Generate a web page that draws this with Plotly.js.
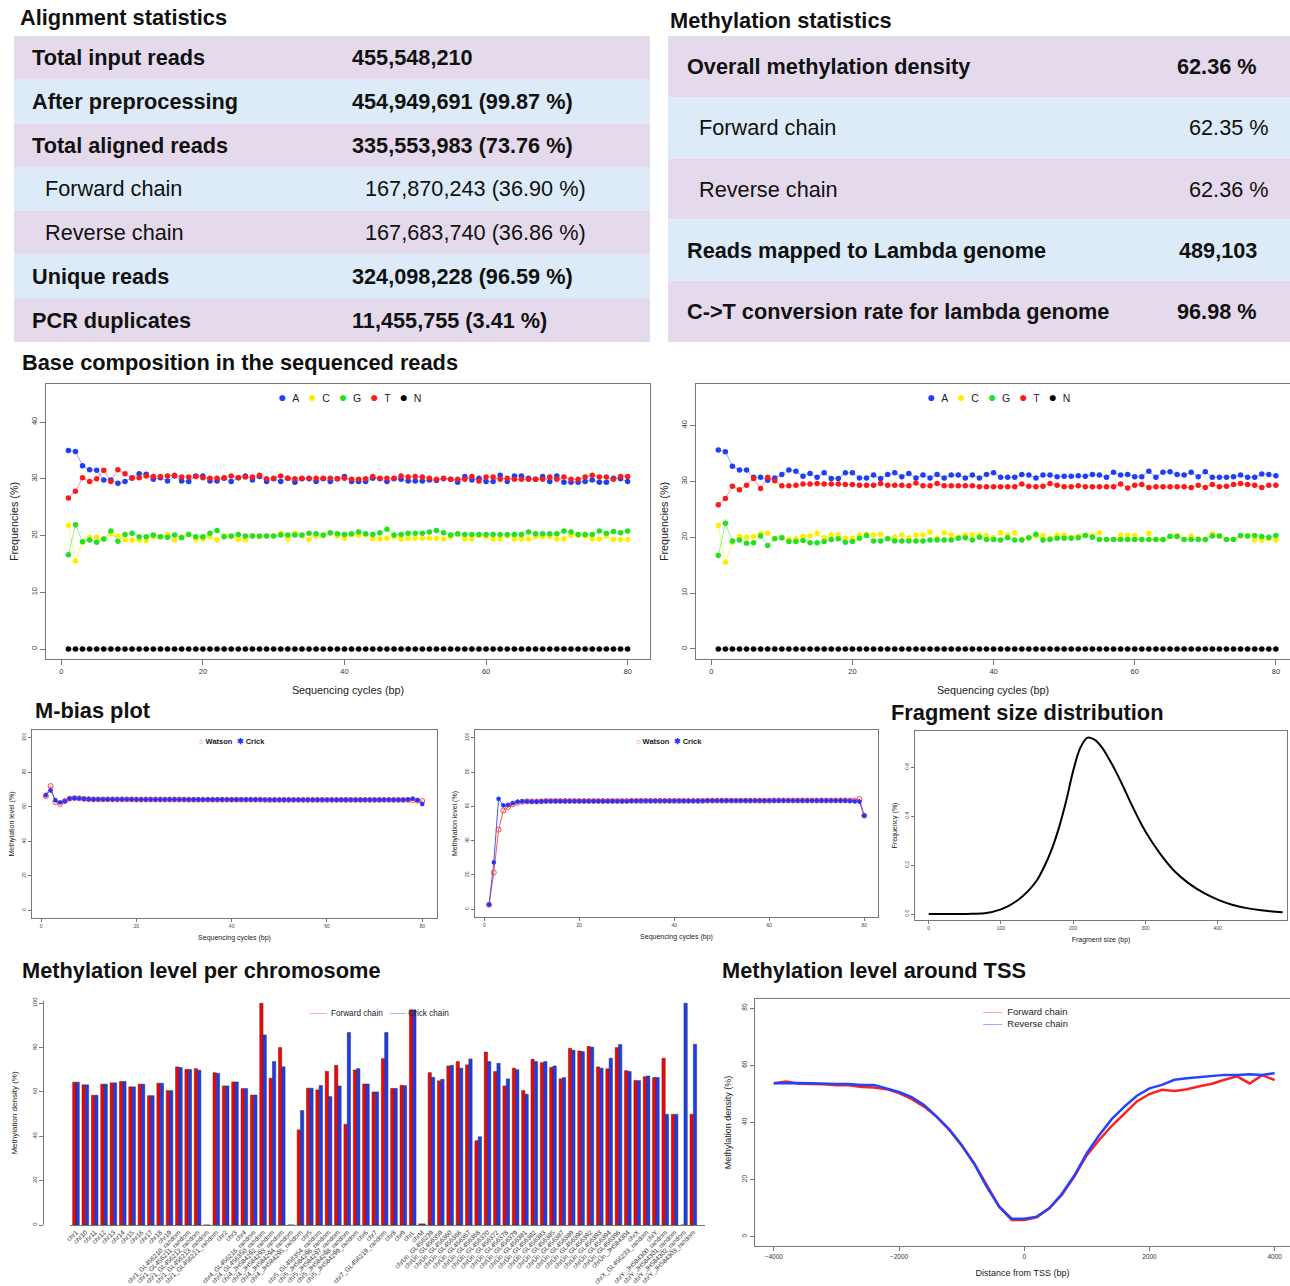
<!DOCTYPE html>
<html><head><meta charset="utf-8">
<script src="https://cdn.plot.ly/plotly-3.0.1.min.js"></script>
<style>body{margin:0;background:#fff}#chart{width:1290px;height:1286px}</style>
</head><body><div id="chart"></div>
<script>
// ================= DATA =================
// Tables
const alignLabels = ["Total input reads","After preprocessing","Total aligned reads","Forward chain","Reverse chain","Unique reads","PCR duplicates"];
const alignValues = ["455,548,210","454,949,691 (99.87 %)","335,553,983 (73.76 %)","167,870,243 (36.90 %)","167,683,740 (36.86 %)","324,098,228 (96.59 %)","11,455,755 (3.41 %)"];
const alignBold = [true,true,true,false,false,true,true];
const methLabels = ["Overall methylation density","Forward chain","Reverse chain","Reads mapped to Lambda genome","C->T conversion rate for lambda genome"];
const methValues = ["62.36 %","62.35 %","62.36 %","489,103","96.98 %"];
const methBold = [true,false,false,true,true];

// Base composition
const cycles = [1,2,3,4,5,6,7,8,9,10,11,12,13,14,15,16,17,18,19,20,21,22,23,24,25,26,27,28,29,30,31,32,33,34,35,36,37,38,39,40,41,42,43,44,45,46,47,48,49,50,51,52,53,54,55,56,57,58,59,60,61,62,63,64,65,66,67,68,69,70,71,72,73,74,75,76,77,78,79,80];
const baseNames = ["A","C","G","T","N"];
const A_L = [35.0,34.8,32.3,31.6,31.5,29.8,29.8,29.2,29.5,30.2,30.9,30.8,29.9,30.2,29.6,30.5,29.6,29.5,30.5,30.5,29.6,29.6,30.1,29.5,30.2,30.5,29.8,30.4,29.5,30.0,29.5,30.1,29.4,30.0,30.0,29.5,30.0,29.5,30.0,30.4,29.5,29.5,29.5,30.1,30.0,29.5,30.0,29.9,29.6,29.6,29.6,29.8,29.7,30.0,29.9,29.4,30.4,29.8,30.1,29.5,29.5,30.6,29.5,30.5,30.5,30.1,29.9,30.4,29.5,30.5,29.4,29.4,29.4,29.5,29.8,29.4,29.4,30.1,30.0,29.5];
const C_L = [21.8,15.5,18.9,19.7,19.7,19.4,20.3,19.9,19.2,19.2,19.2,19.1,19.8,19.8,20.2,19.2,19.8,20.2,19.3,19.4,19.8,19.2,19.9,19.8,19.3,19.2,19.9,19.8,19.9,19.9,20.4,19.4,20.4,19.9,19.3,19.9,19.9,20.4,19.9,19.5,20.1,20.0,20.2,19.4,19.4,19.5,19.8,19.4,19.5,19.5,19.5,19.5,19.5,19.4,19.8,20.2,19.4,19.4,20.0,19.8,19.4,19.4,19.9,19.4,19.4,19.4,19.8,19.8,19.8,19.4,19.4,20.0,20.0,19.9,19.4,19.4,19.9,19.3,19.3,19.3];
const G_L = [16.6,21.9,18.9,19.2,18.8,19.4,20.8,19.0,20.2,20.4,19.8,19.8,20.1,19.8,19.7,20.1,19.6,20.2,19.8,19.8,20.4,20.9,19.8,19.9,20.2,19.9,19.9,19.9,19.9,19.9,20.1,20.1,20.1,20.1,20.4,20.3,20.1,20.5,20.3,20.2,20.3,20.6,20.3,20.2,20.5,21.1,20.1,20.2,20.4,20.4,20.4,20.6,20.9,20.5,20.1,20.3,20.2,20.2,20.2,20.2,20.2,20.2,20.2,20.2,20.2,20.6,20.3,20.3,20.3,20.3,20.8,20.6,20.2,20.2,20.2,20.8,20.4,20.7,20.5,20.8];
const T_L = [26.6,27.8,30.2,29.5,30.0,31.5,29.5,31.6,30.9,30.1,30.2,30.5,30.4,30.4,30.5,30.6,30.3,30.3,30.4,30.2,30.1,30.1,30.2,30.5,30.2,30.3,30.3,30.6,30.0,30.1,30.5,30.1,30.0,30.1,30.1,30.1,30.1,30.1,30.0,30.1,29.9,29.9,30.0,30.4,30.1,30.1,30.1,30.5,30.3,30.4,30.3,30.1,29.9,30.1,29.9,29.9,29.9,30.4,29.6,30.3,30.3,29.9,30.1,29.9,29.9,29.9,29.9,29.9,30.3,29.9,30.3,29.9,29.9,30.3,30.6,30.3,30.3,29.9,30.4,30.4];
const N_L = [0,0,0,0,0,0,0,0,0,0,0,0,0,0,0,0,0,0,0,0,0,0,0,0,0,0,0,0,0,0,0,0,0,0,0,0,0,0,0,0,0,0,0,0,0,0,0,0,0,0,0,0,0,0,0,0,0,0,0,0,0,0,0,0,0,0,0,0,0,0,0,0,0,0,0,0,0,0,0,0];
const A_R = [35.6,35.3,32.7,32.0,32.0,30.7,30.7,30.2,30.6,31.2,32.0,31.8,30.9,31.4,30.7,31.5,30.5,30.5,31.5,31.5,30.6,30.6,31.1,30.5,31.2,31.5,30.8,31.4,30.6,31.1,30.6,31.2,30.6,31.1,31.1,30.6,31.1,30.6,31.2,31.5,30.7,30.7,30.7,31.2,31.1,30.6,31.1,31.1,30.8,30.9,30.9,31.0,30.9,31.2,31.1,30.7,31.6,31.1,31.2,30.8,30.8,31.8,30.7,31.6,31.7,31.2,31.1,31.6,30.8,31.7,30.7,30.7,30.7,30.8,31.1,30.7,30.7,31.3,31.2,31.0];
const C_R = [22.1,15.5,19.1,20.1,20.0,20.1,20.6,20.7,19.8,19.9,19.6,19.7,20.1,20.2,20.7,19.9,20.4,20.4,19.8,19.8,20.4,20.5,20.4,20.5,19.8,20.0,20.4,19.9,20.4,20.4,20.9,19.8,20.8,20.4,20.0,20.4,20.4,20.4,20.3,19.9,20.8,20.4,20.8,19.6,19.9,20.2,20.3,19.8,20.4,20.4,20.0,20.2,20.3,20.3,20.8,19.6,19.6,20.4,20.3,20.3,19.6,20.7,19.6,19.6,20.2,20.3,19.6,20.2,19.7,19.6,20.6,20.2,19.6,19.6,20.2,20.3,19.5,19.5,19.7,19.5];
const G_R = [16.7,22.5,19.3,19.5,18.9,19.0,20.2,18.5,19.7,19.9,19.2,19.2,19.4,19.0,19.0,19.2,19.6,19.7,19.1,19.2,19.8,20.3,19.3,19.3,19.7,19.3,19.3,19.3,19.3,19.3,19.5,19.5,19.5,19.5,19.8,19.9,19.5,20.0,19.6,19.6,19.5,19.9,19.5,19.5,19.9,20.5,19.5,19.6,19.8,19.8,19.8,19.9,20.3,20.0,19.6,19.6,19.6,19.6,19.6,19.6,19.6,19.6,19.6,19.6,20.1,20.1,19.6,19.6,19.6,19.6,20.2,20.2,19.6,19.6,20.3,20.2,20.3,20.1,20.0,20.3];
const T_R = [25.8,26.9,29.1,28.5,29.3,30.5,28.7,30.7,30.1,29.2,29.2,29.3,29.5,29.5,29.6,29.5,29.5,29.5,29.4,29.4,29.3,29.3,29.3,29.6,29.3,29.3,29.3,29.2,29.7,29.2,29.2,29.6,29.2,29.2,29.2,29.2,29.2,29.0,29.0,29.0,29.0,29.0,29.0,29.5,29.1,29.0,29.1,29.6,29.3,29.0,29.0,29.2,29.0,29.0,29.0,29.0,29.0,29.5,28.8,29.3,29.4,28.9,29.0,29.0,29.0,29.0,29.0,28.9,29.3,28.9,29.4,29.0,29.1,29.4,29.6,29.4,29.3,28.9,29.3,29.3];
const N_R = [0,0,0,0,0,0,0,0,0,0,0,0,0,0,0,0,0,0,0,0,0,0,0,0,0,0,0,0,0,0,0,0,0,0,0,0,0,0,0,0,0,0,0,0,0,0,0,0,0,0,0,0,0,0,0,0,0,0,0,0,0,0,0,0,0,0,0,0,0,0,0,0,0,0,0,0,0,0,0,0];

// M-bias
const watsonL = [66.2,72.0,62.7,61.7,63.3,64.7,65.0,64.9,64.6,64.4,64.3,64.3,64.3,64.3,64.3,64.3,64.3,64.3,64.3,64.2,64.2,64.2,64.2,64.2,64.2,64.2,64.2,64.2,64.2,64.2,64.1,64.1,64.1,64.1,64.1,64.1,64.1,64.1,64.1,64.1,64.1,64.1,64.1,64.1,64.1,64.1,64.0,64.0,64.0,64.0,64.0,64.0,64.0,64.0,64.0,64.0,64.0,64.0,64.0,64.0,64.0,64.0,64.0,64.0,64.0,64.0,64.0,64.0,64.0,64.0,64.0,64.0,64.0,64.0,64.0,64.0,64.0,63.9,63.5,63.3];
const crickL = [66.8,69.5,63.9,62.5,63.3,64.7,65.0,64.9,64.6,64.4,64.3,64.3,64.3,64.3,64.3,64.3,64.3,64.3,64.3,64.2,64.2,64.2,64.2,64.2,64.2,64.2,64.2,64.2,64.2,64.2,64.1,64.1,64.1,64.1,64.1,64.1,64.1,64.1,64.1,64.1,64.1,64.1,64.1,64.1,64.1,64.1,64.0,64.0,64.0,64.0,64.0,64.0,64.0,64.0,64.0,64.0,64.0,64.0,64.0,64.0,64.0,64.0,64.0,64.0,64.0,64.0,64.0,64.0,64.0,64.0,64.0,64.0,64.0,64.0,64.0,64.0,64.1,64.7,63.9,61.7];
const watsonR = [2.7,21.4,46.4,57.5,59.6,61.2,62.1,62.7,62.9,62.9,62.8,62.9,63.1,63.1,63.1,63.1,63.1,63.1,63.1,63.1,63.1,63.1,63.1,63.1,63.1,63.1,63.1,63.1,63.1,63.1,63.2,63.2,63.2,63.2,63.2,63.2,63.2,63.2,63.2,63.2,63.2,63.2,63.2,63.2,63.2,63.2,63.3,63.3,63.3,63.3,63.3,63.3,63.3,63.3,63.3,63.3,63.3,63.3,63.3,63.3,63.4,63.4,63.4,63.4,63.4,63.4,63.4,63.4,63.4,63.4,63.4,63.4,63.4,63.4,63.4,63.4,63.4,63.4,64.3,54.6];
const crickR = [2.7,27.4,64.3,60.6,60.8,61.9,62.7,62.9,62.9,62.8,62.7,62.9,63.1,63.1,63.1,63.1,63.1,63.1,63.1,63.1,63.1,63.1,63.1,63.1,63.1,63.1,63.1,63.1,63.1,63.1,63.2,63.2,63.2,63.2,63.2,63.2,63.2,63.2,63.2,63.2,63.2,63.2,63.2,63.2,63.2,63.2,63.3,63.3,63.3,63.3,63.3,63.3,63.3,63.3,63.3,63.3,63.3,63.3,63.3,63.3,63.4,63.4,63.4,63.4,63.4,63.4,63.4,63.4,63.4,63.4,63.4,63.4,63.4,63.4,63.4,63.4,63.2,62.9,62.7,54.6];
const strandNames = ["Watson","Crick"];

// Fragment size
const fragSize = [0,20,40,60,80,100,110,120,130,140,150,160,170,180,190,200,210,220,230,240,250,260,270,280,290,300,320,340,360,380,400,420,440,460,480,490];
const fragFreq = [0.0,0.0,0.0,0.001,0.004,0.019,0.032,0.050,0.073,0.102,0.139,0.194,0.262,0.350,0.459,0.585,0.680,0.721,0.712,0.680,0.632,0.577,0.516,0.452,0.392,0.337,0.248,0.176,0.125,0.087,0.059,0.038,0.024,0.015,0.009,0.007];

// Methylation per chromosome
const chroms = ["chr1","chr10","chr11","chr12","chr13","chr14","chr15","chr16","chr17","chr18","chr19",
"chr1_GL456210_random","chr1_GL456211_random","chr1_GL456212_random","chr1_GL456213_random","chr1_GL456221_random",
"chr2","chr3","chr4","chr4_GL456216_random","chr4_GL456350_random","chr4_JH584292_random","chr4_JH584293_random","chr4_JH584294_random","chr4_JH584295_random",
"chr5","chr5_GL456354_random","chr5_JH584296_random","chr5_JH584297_random","chr5_JH584298_random","chr5_JH584299_random",
"chr6","chr7","chr7_GL456219_random","chr8","chr9","chrL","chrM",
"chrUn_GL456239","chrUn_GL456359","chrUn_GL456360","chrUn_GL456366","chrUn_GL456367","chrUn_GL456368","chrUn_GL456370","chrUn_GL456372","chrUn_GL456378","chrUn_GL456379","chrUn_GL456381","chrUn_GL456382","chrUn_GL456383","chrUn_GL456385","chrUn_GL456387","chrUn_GL456389","chrUn_GL456390","chrUn_GL456392","chrUn_GL456393","chrUn_GL456394","chrUn_GL456396","chrUn_JH584304",
"chrX","chrX_GL456233_random","chrY","chrY_JH584300_random","chrY_JH584301_random","chrY_JH584302_random","chrY_JH584303_random"];
const fwdChr = [64.4,63.2,58.5,63.5,64.1,64.7,62.3,63.5,58.3,63.9,60.6,71.3,70.1,70.5,0,68.7,62.7,64.5,61.5,58.6,100,66.2,80.0,0,42.9,61.7,60.9,69.3,72.0,45.4,69.9,63.6,60.0,75.0,61.6,63.0,97.0,0.5,68.7,65.0,71.7,73.7,72.2,38.0,78.0,69.2,62.7,70.7,60.6,74.7,73.2,71.1,65.9,79.7,78.5,80.5,71.3,70.4,80.0,69.6,65.1,66.9,66.5,75.2,49.9,0,49.9];
const crickChr = [64.4,63.2,58.5,63.5,64.1,64.7,62.3,63.5,58.3,63.9,60.6,71.0,70.1,69.8,0,68.4,62.7,64.5,61.5,58.6,85.7,73.7,71.3,0,51.6,61.7,62.9,57.9,62.7,86.8,70.5,63.6,60.0,86.8,61.6,62.8,97.0,0.5,66.6,65.7,72.0,70.7,74.9,39.8,73.7,72.9,65.9,70.0,59.0,73.7,73.7,71.7,66.5,78.8,78.2,80.2,70.7,75.2,81.4,69.2,65.1,67.2,66.5,49.9,49.9,100,81.5];
const chrSeriesNames = ["Forward chain","Crick chain"];

// Methylation around TSS
const tssDist = [-4000,-3800,-3600,-3400,-3200,-3000,-2800,-2600,-2400,-2200,-2000,-1800,-1600,-1400,-1200,-1000,-800,-600,-400,-200,0,200,400,600,800,1000,1200,1400,1600,1800,2000,2200,2400,2600,2800,3000,3200,3400,3600,3800,4000];
const tssFwd = [53.7,54.3,53.5,53.5,53.3,53.0,53.0,52.4,52.2,51.6,50.2,48.2,45.5,42.0,37.4,31.9,25.7,18.1,10.5,5.8,5.8,6.8,9.9,14.6,21.0,28.5,33.9,38.8,43.2,47.3,49.9,51.4,51.0,51.6,52.6,53.5,54.9,56.1,53.6,56.5,54.8];
const tssRev = [53.7,53.8,53.8,53.7,53.5,53.4,53.4,53.1,53.1,51.9,50.6,48.8,46.1,42.0,37.6,32.1,25.5,17.5,10.5,6.3,6.3,7.0,9.9,14.9,21.4,29.2,35.6,41.2,45.5,49.3,51.9,53.1,54.9,55.4,55.8,56.4,56.6,56.6,56.8,56.6,57.2];
const tssNames = ["Forward chain","Reverse chain"];

// ================= LAYOUT HELPERS =================
const W = 1290, H = 1286;
const FONT = "Liberation Sans, Arial, Helvetica, sans-serif";
const NB = "\u00a0";
const px = v => v / W;
const py = v => 1 - v / H;
const dX = (a, b) => [px(a), px(b)];
const dY = (top, bot) => [py(bot), py(top)];

const LAV = "#e5daec", BLU = "#dcebf7";
const TFS = 21.7;
const shapes = [], annotations = [];
function note(text, x, y, xanchor, size, weight, color, extra) {
  annotations.push(Object.assign({xref:"paper", yref:"paper", x:px(x), y:py(y), xanchor:xanchor, yanchor:"middle",
    text:text, showarrow:false, borderpad:0, font:{family:FONT, size:size, color:color || "#111", weight:weight || "normal"}}, extra || {}));
}

// Alignment table
const aTop = 36, aRow = 43.7;
alignLabels.forEach((lab, i) => {
  const y0 = aTop + i * aRow;
  shapes.push({type:"rect", xref:"paper", yref:"paper", x0:px(14), x1:px(650), y0:py(y0), y1:py(y0 + aRow),
    fillcolor: i % 2 === 0 ? LAV : BLU, line:{width:0}, layer:"below"});
  const b = alignBold[i];
  note(lab, b ? 31 : 44, y0 + aRow/2, "left", TFS, b ? "bold" : "normal");
  note(alignValues[i], b ? 351 : 364, y0 + aRow/2, "left", TFS, b ? "bold" : "normal");
});
// Methylation table
const mTop = 36, mRow = 61.2;
methLabels.forEach((lab, i) => {
  const y0 = mTop + i * mRow;
  shapes.push({type:"rect", xref:"paper", yref:"paper", x0:px(668), x1:px(1290), y0:py(y0), y1:py(y0 + mRow),
    fillcolor: i % 2 === 0 ? LAV : BLU, line:{width:0}, layer:"below"});
  const b = methBold[i];
  note(lab, b ? 686 : 698, y0 + mRow/2, "left", TFS, b ? "bold" : "normal");
  note(methValues[i], b ? 1258 : 1270, y0 + mRow/2, "right", TFS, b ? "bold" : "normal");
});

// Section titles
const sectionTitles = [
  ["Alignment statistics", 19, 18],
  ["Methylation statistics", 669, 20],
  ["Base composition in the sequenced reads", 21, 362],
  ["M-bias plot", 34, 711],
  ["Fragment size distribution", 890, 712],
  ["Methylation level per chromosome", 21, 970],
  ["Methylation level around TSS", 721, 970]
];
sectionTitles.forEach(([t, x, y]) => note(t, x, y, "left", 21.8, "bold"));

// ================= TRACES =================
const traces = [];
const baseColors = ["#1f3ff5","#ffee00","#22e022","#ff1a1a","#000000"];
function baseTraces(series, xa, ya) {
  series.forEach((s, i) => {
    traces.push({type:"scatter", mode:"lines", x:cycles, y:s, xaxis:xa, yaxis:ya, showlegend:false,
      line:{color:baseColors[i], width:0.7}, opacity:0.7});
  });
  series.forEach((s, i) => {
    traces.push({type:"scatter", mode:"markers", x:cycles, y:s, xaxis:xa, yaxis:ya, name:baseNames[i], showlegend:false,
      marker:{color:baseColors[i], size:5.5}});
  });
}
baseTraces([A_L, C_L, G_L, T_L, N_L], "x", "y");
baseTraces([A_R, C_R, G_R, T_R, N_R], "x2", "y2");
// base composition legends (text keys)
const baseLegend = baseNames.map((n, i) => `<span style="color:${baseColors[i]};font-size:14px">●</span>${NB}${NB}${n}`).join(NB + NB + NB);
note(baseLegend, 349, 397, "center", 10.5, "normal", "#222");
note(baseLegend, 998, 397, "center", 10.5, "normal", "#222");

const WAT = "#ff4444", CRI = "#2233ff";
function mbiasTraces(w, c, xa, ya) {
  traces.push({type:"scatter", mode:"lines", x:cycles, y:w, xaxis:xa, yaxis:ya, showlegend:false, line:{color:"#ff5555", width:1}});
  traces.push({type:"scatter", mode:"lines", x:cycles, y:c, xaxis:xa, yaxis:ya, showlegend:false, line:{color:"#4455ff", width:1}});
  traces.push({type:"scatter", mode:"markers", x:cycles, y:w, xaxis:xa, yaxis:ya, name:strandNames[0], showlegend:false,
    marker:{color:WAT, size:5, symbol:"circle-open", line:{width:1}}});
  traces.push({type:"scatter", mode:"markers", x:cycles, y:c, xaxis:xa, yaxis:ya, name:strandNames[1], showlegend:false,
    marker:{color:CRI, size:4, symbol:"asterisk-open", line:{width:1.2, color:CRI}}});
}
mbiasTraces(watsonL, crickL, "x3", "y3");
mbiasTraces(watsonR, crickR, "x4", "y4");
const mLegend = `<span style="color:${WAT}">○</span>${NB}${strandNames[0]}${NB}${NB}<span style="color:${CRI}">✱</span>${NB}${strandNames[1]}`;
note(mLegend, 232, 741, "center", 7.5, "bold", "#222");
note(mLegend, 669, 741, "center", 7.5, "bold", "#222");

traces.push({type:"scatter", mode:"lines", x:fragSize, y:fragFreq, xaxis:"x5", yaxis:"y5", showlegend:false,
  line:{color:"#000", width:2, shape:"spline", smoothing:1}});

const BRED = "#ff0000", BBLUE = "#1a3cf5";
traces.push({type:"bar", x:chroms, y:fwdChr, xaxis:"x6", yaxis:"y6", name:chrSeriesNames[0], showlegend:false,
  marker:{color:BRED, line:{color:"#333", width:0.5}}});
traces.push({type:"bar", x:chroms, y:crickChr, xaxis:"x6", yaxis:"y6", name:chrSeriesNames[1], showlegend:false,
  marker:{color:BBLUE, line:{color:"#333", width:0.5}}});
const barLegend = `<span style="color:#ff6666">——</span>${NB}${NB}${chrSeriesNames[0]}${NB}${NB}${NB}<span style="color:#6677ff">——</span>${NB}${chrSeriesNames[1]}`;
note(barLegend, 309, 1013, "left", 8.2, "normal", "#222");

const TRED = "#ff1f1f", TBLUE = "#2244ff";
traces.push({type:"scatter", mode:"lines", x:tssDist, y:tssFwd, xaxis:"x7", yaxis:"y7", name:tssNames[0], showlegend:false,
  line:{color:TRED, width:2.5}});
traces.push({type:"scatter", mode:"lines", x:tssDist, y:tssRev, xaxis:"x7", yaxis:"y7", name:tssNames[1], showlegend:false,
  line:{color:TBLUE, width:2.5}});
const tssLegend = `<span style="color:#ff5555">——</span>${NB}${NB}${tssNames[0]}<br><span style="color:#5566ff">——</span>${NB}${NB}${tssNames[1]}`;
note(tssLegend, 982, 1017, "left", 9.5, "normal", "#222", {align:"left"});

// ================= AXES =================
function ax(extra) {
  return Object.assign({showline:true, mirror:true, linecolor:"#777", linewidth:1, ticks:"outside", ticklen:4,
    tickcolor:"#777", zeroline:false, showgrid:false, tickfont:{family:FONT, size:7, color:"#333"}}, extra);
}
function ttl(text, size, standoff) { return {text:text, font:{family:FONT, size:size, color:"#222"}, standoff:standoff}; }
const smallTick = {family:FONT, size:5, color:"#444"};

const layout = {
  width:W, height:H, margin:{l:0, r:0, t:0, b:0}, paper_bgcolor:"#fff", plot_bgcolor:"#fff",
  showlegend:false, hovermode:false, barmode:"group", bargap:0.29, bargroupgap:0,
  font:{family:FONT},
  shapes:shapes, annotations:annotations,
  // Base composition left
  xaxis: ax({domain:dX(46,650), range:[-2.16,83.16], anchor:"y", tickvals:[0,20,40,60,80], ticklen:5, tickfont:{family:FONT,size:7.5,color:"#333"}, title:ttl("Sequencing cycles (bp)",10.8,11)}),
  yaxis: ax({domain:dY(384,659), range:[-1.76,46.7], anchor:"x", tickvals:[0,10,20,30,40], tickangle:-90, ticklen:5, tickfont:{family:FONT,size:7.5,color:"#333"}, title:ttl("Frequencies (%)",10.8,9)}),
  // Base composition right
  xaxis2: ax({domain:dX(696,1290), range:[-2.16,82.0], anchor:"y2", tickvals:[0,20,40,60,80], ticklen:5, tickfont:{family:FONT,size:7.5,color:"#333"}, title:ttl("Sequencing cycles (bp)",10.8,11)}),
  yaxis2: ax({domain:dY(384,659), range:[-1.8,47.4], anchor:"x2", tickvals:[0,10,20,30,40], tickangle:-90, ticklen:5, tickfont:{family:FONT,size:7.5,color:"#333"}, title:ttl("Frequencies (%)",10.8,9)}),
  // M-bias left
  xaxis3: ax({domain:dX(32,437), range:[-1.9,83.1], anchor:"y3", tickvals:[0,20,40,60,80], ticklen:3, tickfont:smallTick, title:ttl("Sequencing cycles (bp)",7,7)}),
  yaxis3: ax({domain:dY(730,918), range:[-4.5,104.5], anchor:"x3", tickvals:[0,20,40,60,80,100], tickangle:-90, ticklen:3, tickfont:smallTick, title:ttl("Methylation level (%)",7,5)}),
  // M-bias right
  xaxis4: ax({domain:dX(475,878), range:[-1.96,82.9], anchor:"y4", tickvals:[0,20,40,60,80], ticklen:3, tickfont:smallTick, title:ttl("Sequencing cycles (bp)",7,7)}),
  yaxis4: ax({domain:dY(730,917), range:[-4.5,104.5], anchor:"x4", tickvals:[0,20,40,60,80,100], tickangle:-90, ticklen:3, tickfont:smallTick, title:ttl("Methylation level (%)",7,5)}),
  // Fragment size
  xaxis5: ax({domain:dX(915,1287), range:[-19,496], anchor:"y5", tickvals:[0,100,200,300,400], ticklen:3, tickfont:smallTick, title:ttl("Fragment size (bp)",7,7)}),
  yaxis5: ax({domain:dY(731,920), range:[-0.0245,0.748], anchor:"x5", tickvals:[0,0.2,0.4,0.6], tickformat:".1f", tickangle:-90, ticklen:3, tickfont:smallTick, title:ttl("Frequency (%)",7,5)}),
  // Bars
  xaxis6: {domain:dX(70,705), range:[-0.64,67.25], anchor:"y6", type:"category", tickmode:"array", tickvals:chroms, ticktext:chroms,
    tickangle:-45, ticks:"", showline:true, linecolor:"#777", linewidth:1, showgrid:false, zeroline:false,
    tickfont:{family:FONT, size:6.5, color:"#333"}},
  yaxis6: {domain:dY(1001,1225), range:[0,101], anchor:"free", position:px(43), overlaying:false, tickvals:[0,20,40,60,80,100], tickangle:-90, ticks:"outside", ticklen:4,
    tickcolor:"#777", showline:true, linecolor:"#777", linewidth:1, showgrid:false, zeroline:false,
    tickfont:{family:FONT, size:6, color:"#444"}, title:ttl("Methylation density (%)",8,11)},
  // TSS
  xaxis7: ax({domain:dX(755,1290), range:[-4300,4245], anchor:"y7", tickvals:[-4000,-2000,0,2000,4000], tickfont:{family:FONT,size:6.5,color:"#333"}, title:ttl("Distance from TSS (bp)",9,10)}),
  yaxis7: ax({domain:dY(999,1246), range:[-3.27,83.15], anchor:"x7", tickvals:[0,20,40,60,80], tickangle:-90, tickfont:{family:FONT,size:6.5,color:"#333"}, title:ttl("Methylation density (%)",9,8)})
};

Plotly.newPlot("chart", traces, layout, {staticPlot:true, displayModeBar:false});
</script>
</body></html>
